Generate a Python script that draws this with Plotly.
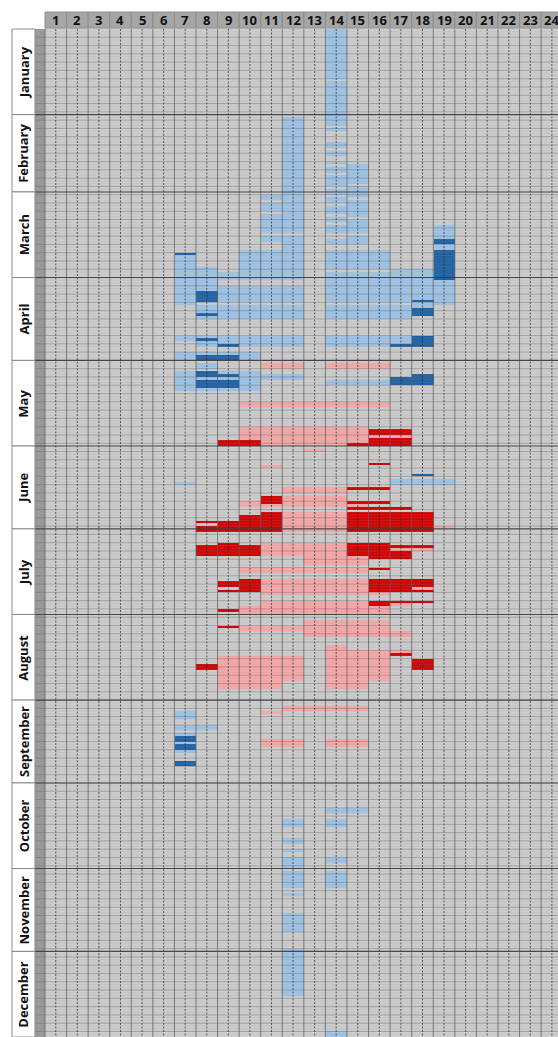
import numpy as np
import plotly.graph_objects as go

# ---------------- data ----------------
hours = list(range(1, 25))
months = ["January", "February", "March", "April", "May", "June", "July",
          "August", "September", "October", "November", "December"]
month_days = [31, 28, 31, 30, 31, 30, 31, 31, 30, 31, 30, 31]

# cell runs: (first_hour, last_hour, first_day, last_day), days 0-based, inclusive
light_blue = [
    (14, 14, 0, 17), (14, 14, 19, 34), (14, 14, 36, 36), (14, 14, 41, 42), (14, 14, 44, 45),
    (14, 14, 48, 48), (14, 14, 50, 51), (14, 14, 53, 54), (14, 14, 55, 56), (14, 14, 58, 59),
    (14, 14, 61, 62), (14, 14, 64, 66), (14, 14, 68, 69), (14, 14, 71, 73), (14, 14, 76, 77),
    (12, 12, 32, 73), (12, 12, 75, 80),
    (11, 11, 60, 61), (11, 11, 63, 65), (11, 11, 67, 73), (11, 11, 75, 76),
    (15, 15, 49, 55), (15, 15, 57, 60), (15, 15, 62, 67), (15, 15, 69, 73), (15, 15, 75, 77),
    (19, 19, 71, 79), (19, 19, 91, 99),
    (11, 12, 80, 87), (10, 10, 80, 87), (14, 16, 80, 86), (7, 7, 82, 99),
    (8, 8, 86, 98), (8, 8, 100, 104), (9, 9, 88, 90), (9, 9, 93, 98),
    (9, 9, 100, 104), (10, 12, 88, 90), (10, 12, 93, 98), (10, 12, 100, 104),
    (14, 14, 88, 98), (14, 14, 100, 104), (15, 15, 88, 98), (15, 15, 100, 104),
    (16, 16, 88, 98), (16, 16, 100, 104), (17, 17, 87, 98), (17, 17, 100, 104), (18, 18, 87, 100),
    (7, 7, 111, 112), (8, 12, 111, 114), (14, 17, 111, 114),
    (7, 10, 117, 119), (8, 8, 121, 122),
    (7, 10, 124, 130), (11, 12, 125, 126), (14, 16, 127, 128),
    (7, 7, 164, 164), (17, 19, 163, 164),
    (7, 7, 247, 249), (7, 8, 252, 253), (7, 7, 255, 261),
    (14, 15, 282, 283), (12, 12, 286, 288), (14, 14, 286, 288), (12, 12, 293, 294),
    (12, 12, 297, 297), (12, 12, 300, 301), (14, 14, 300, 301), (12, 12, 302, 303),
    (12, 12, 305, 310), (14, 14, 305, 306), (14, 14, 307, 310), (12, 12, 313, 313),
    (12, 12, 320, 326), (12, 12, 333, 349), (14, 14, 363, 364),
]
dark_blue = [
    (19, 19, 76, 77), (19, 19, 80, 90), (7, 7, 81, 81), (8, 8, 95, 98), (18, 18, 98, 98),
    (18, 18, 101, 103), (8, 8, 103, 103),
    (8, 8, 112, 112), (9, 9, 114, 114), (18, 18, 111, 114), (17, 17, 114, 114),
    (8, 9, 118, 119),
    (8, 8, 124, 125), (9, 9, 125, 125), (8, 9, 127, 128), (8, 9, 129, 129),
    (18, 18, 125, 128), (17, 17, 126, 128),
    (18, 18, 161, 161),
    (7, 7, 256, 257), (7, 7, 259, 260), (7, 7, 265, 266),
]
light_red = [
    (11, 12, 121, 122), (14, 16, 121, 122),
    (10, 16, 135, 136),
    (10, 14, 144, 150), (15, 15, 144, 149), (16, 17, 147, 147),
    (13, 13, 152, 152), (11, 11, 158, 158),
    (12, 14, 166, 167), (12, 14, 169, 171), (10, 15, 171, 172),
    (12, 14, 175, 181), (19, 19, 180, 180),
    (11, 14, 186, 190), (17, 18, 188, 188),
    (13, 15, 191, 193),
    (10, 15, 195, 196),
    (11, 15, 199, 204), (16, 16, 204, 204), (18, 18, 202, 202),
    (11, 15, 207, 209), (17, 17, 208, 208),
    (10, 16, 209, 211),
    (13, 16, 214, 219), (10, 12, 216, 217), (17, 17, 218, 219),
    (14, 14, 223, 224), (14, 17, 225, 226),
    (9, 12, 227, 235), (14, 16, 225, 235),
    (9, 11, 236, 238), (14, 15, 236, 238),
    (12, 15, 245, 246), (11, 11, 247, 247),
    (11, 12, 257, 259), (14, 15, 257, 259),
]
dark_red = [
    (16, 17, 145, 146), (16, 17, 148, 150), (9, 10, 149, 150), (15, 15, 150, 150),
    (16, 16, 157, 157),
    (15, 16, 166, 166),
    (11, 11, 169, 171),
    (15, 16, 171, 171), (15, 17, 173, 173),
    (15, 18, 175, 181), (11, 11, 175, 181), (10, 10, 176, 181), (9, 9, 178, 181),
    (8, 8, 178, 178), (8, 8, 180, 181),
    (9, 9, 186, 190), (8, 8, 187, 190), (10, 10, 187, 190), (15, 16, 186, 190),
    (17, 18, 187, 187), (16, 17, 189, 191),
    (16, 16, 195, 195),
    (10, 10, 199, 203), (9, 9, 200, 201), (9, 9, 203, 203), (16, 17, 199, 203),
    (18, 18, 199, 201), (18, 18, 203, 203),
    (16, 16, 207, 208), (17, 18, 207, 207),
    (9, 9, 210, 210),
    (9, 9, 216, 216),
    (17, 17, 226, 226),
    (18, 18, 228, 231), (8, 8, 230, 231),
]

# ---------------- build the grid ----------------
n_days = sum(month_days)
z = np.zeros((n_days, 24), dtype=int)
for level, runs in ((1, light_blue), (3, light_red), (2, dark_blue), (4, dark_red)):
    for h1, h2, d1, d2 in runs:
        z[d1:d2 + 1, h1 - 1:h2] = level

GREY = "#cdcdcd"
colors = [GREY, "#9fc4e7", "#1f63a8", "#f7a9a9", "#d60000"]
cs = []
for i, c in enumerate(colors):
    cs.append([i / 5, c])
    cs.append([(i + 1) / 5, c])

day_centers = [d + 0.5 for d in range(n_days)]

fig = go.Figure()
fig.add_trace(go.Heatmap(
    x=hours, y=day_centers, z=z, colorscale=cs, zmin=-0.5, zmax=4.5,
    showscale=False, hoverinfo="skip"))

X_STRIP = 0.036
X_LABEL = -1.03


def seg_trace(xs, ys, color, width, dash="solid"):
    return go.Scatter(x=xs, y=ys, mode="lines", hoverinfo="skip", showlegend=False,
                      line=dict(color=color, width=width, dash=dash))


starts = np.cumsum([0] + month_days)

# light daily lines
xs, ys = [], []
for d in range(1, n_days):
    xs += [X_STRIP, 24.5, None]
    ys += [d, d, None]
fig.add_trace(seg_trace(xs, ys, "rgba(150,150,150,0.35)", 0.5))

# darker lines every third day
xs, ys = [], []
for d in range(3, n_days, 3):
    xs += [X_STRIP, 24.5, None]
    ys += [d, d, None]
fig.add_trace(seg_trace(xs, ys, "rgba(90,90,90,0.45)", 0.7))

# vertical column borders
xs, ys = [], []
for k in range(0, 25):
    xs += [k + 0.5, k + 0.5, None]
    ys += [0, n_days, None]
fig.add_trace(seg_trace(xs, ys, "rgba(95,95,95,0.75)", 1))

# dotted centre lines
xs, ys = [], []
for k in hours:
    xs += [k, k, None]
    ys += [0, n_days, None]
fig.add_trace(seg_trace(xs, ys, "rgba(40,40,40,0.7)", 1, dash="2px,1.5px"))

# month separators
xs, ys = [], []
for s in starts[1:-1]:
    xs += [X_LABEL, 24.5, None]
    ys += [s, s, None]
fig.add_trace(seg_trace(xs, ys, "rgba(60,60,60,0.9)", 1.1))

shapes = []
annotations = []
shapes.append(dict(type="rect", xref="x", yref="y", x0=X_STRIP, x1=0.5, y0=0, y1=n_days,
                   fillcolor="#9a9a9a", line=dict(width=0), layer="below"))
for m, name in enumerate(months):
    s, e = starts[m], starts[m + 1]
    shapes.append(dict(type="rect", xref="x", yref="y", x0=X_LABEL, x1=X_STRIP, y0=s, y1=e,
                       fillcolor="white", line=dict(color="#8a8a8a", width=1)))
    annotations.append(dict(x=(X_LABEL + X_STRIP) / 2, y=(s + e) / 2, xref="x", yref="y",
                            text="<b>%s</b>" % name, textangle=-90, showarrow=False,
                            font=dict(family="Open Sans, Arial", size=13, color="#111111")))
for k in hours:
    shapes.append(dict(type="rect", xref="x", yref="y", x0=k - 0.5, x1=k + 0.5, y0=-6.15, y1=-0.3,
                       fillcolor="#a6a6a6", line=dict(color="#8c8c8c", width=1)))
    annotations.append(dict(x=k, y=-3.2, xref="x", yref="y", text="<b>%d</b>" % k,
                            showarrow=False,
                            font=dict(family="Open Sans, Arial", size=13, color="#111111")))

fig.update_layout(
    width=558, height=1037, margin=dict(l=0, r=0, t=0, b=0),
    paper_bgcolor="white", plot_bgcolor="white", showlegend=False,
    shapes=shapes, annotations=annotations,
    xaxis=dict(range=[-1.586, 24.283], visible=False, fixedrange=True),
    yaxis=dict(range=[n_days, -10.5], visible=False, fixedrange=True),
)

fig.write_html("out.html", config={"displayModeBar": False})
